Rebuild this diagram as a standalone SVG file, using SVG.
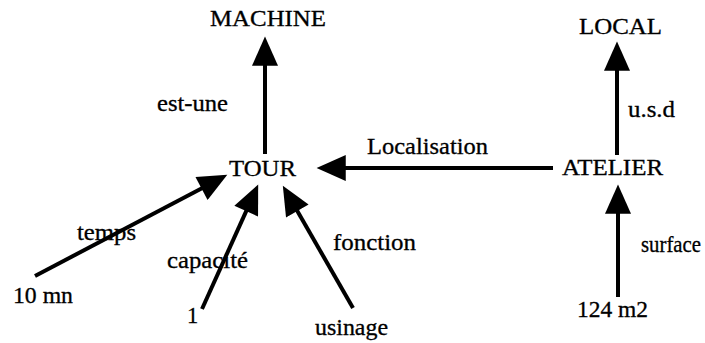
<svg xmlns="http://www.w3.org/2000/svg" width="705" height="343" viewBox="0 0 705 343">
<defs>
<style>
.c line{stroke:#000;stroke-width:4;marker-end:url(#ah)}
</style>
<marker id="ah" markerUnits="userSpaceOnUse" markerWidth="30" markerHeight="26" refX="18" refY="12.5" orient="auto" viewBox="0 0 28 25">
<path d="M0,0 L28,12.5 L0,25 z" fill="#000"/>
</marker>
</defs>
<rect width="705" height="343" fill="#fff"/>
<g id="connectors" class="c">
<line x1="265" y1="154" x2="265" y2="47"/>
<line x1="617" y1="155" x2="617" y2="52"/>
<line x1="618" y1="297" x2="618" y2="195"/>
<line x1="553" y1="168" x2="327" y2="168"/>
<line x1="35" y1="276" x2="218.1" y2="179.7"/>
<line x1="202" y1="309" x2="253.9" y2="194.1"/>
<line x1="353" y1="308" x2="288" y2="194.7"/>
</g>
<g font-family="'Liberation Serif', 'DejaVu Serif', serif" font-size="22.5" fill="#000" stroke="#000" stroke-width="0.3">
<g id="labels">
<text x="157" y="111" textLength="71" lengthAdjust="spacingAndGlyphs">est-une</text>
<text x="367" y="154" textLength="121" lengthAdjust="spacingAndGlyphs">Localisation</text>
<text x="628" y="117" textLength="47" lengthAdjust="spacingAndGlyphs">u.s.d</text>
<text x="641" y="252" textLength="60" lengthAdjust="spacingAndGlyphs">surface</text>
<text x="77" y="240" textLength="59" lengthAdjust="spacingAndGlyphs">temps</text>
<text x="167" y="268" textLength="81" lengthAdjust="spacingAndGlyphs">capacité</text>
<text x="333" y="250" textLength="83" lengthAdjust="spacingAndGlyphs">fonction</text>
</g>
<g id="MACHINE"><text x="210" y="26" textLength="116" lengthAdjust="spacingAndGlyphs">MACHINE</text></g>
<g id="TOUR"><text x="229" y="176" textLength="67" lengthAdjust="spacingAndGlyphs">TOUR</text></g>
<g id="LOCAL"><text x="579" y="34" textLength="83" lengthAdjust="spacingAndGlyphs">LOCAL</text></g>
<g id="ATELIER"><text x="562" y="175" textLength="101" lengthAdjust="spacingAndGlyphs">ATELIER</text></g>
<g id="n10mn"><text x="13" y="303" textLength="60" lengthAdjust="spacingAndGlyphs">10 mn</text></g>
<g id="n1"><text x="187" y="323">1</text></g>
<g id="usinage"><text x="315" y="335" textLength="73" lengthAdjust="spacingAndGlyphs">usinage</text></g>
<g id="n124m2"><text x="577" y="317" textLength="71" lengthAdjust="spacingAndGlyphs">124 m2</text></g>
</g>
</svg>
